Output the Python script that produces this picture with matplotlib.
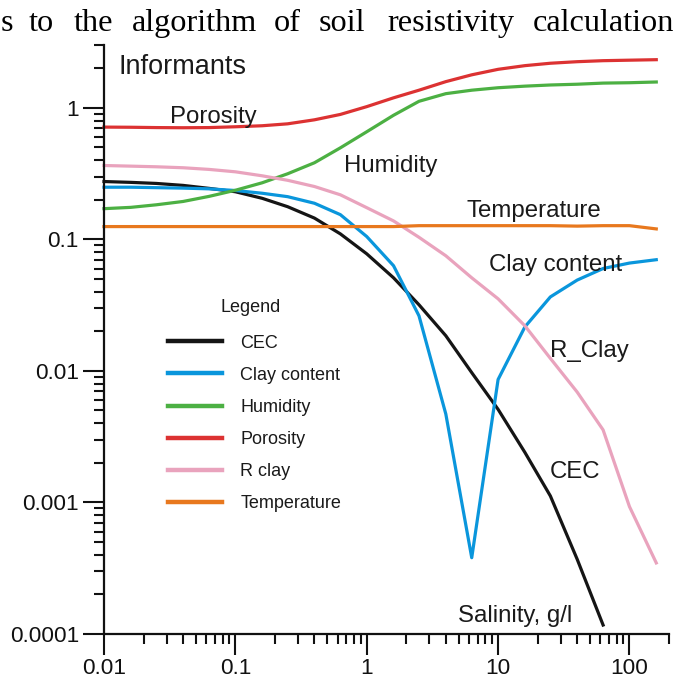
import matplotlib
matplotlib.use("Agg")
from matplotlib import pyplot as plt
from matplotlib.ticker import LogLocator, NullFormatter

# salinity, g/l (step 0.2 in log10)
salinity = [0.01, 0.016, 0.025, 0.04, 0.063, 0.1, 0.16, 0.25, 0.4, 0.63,
            1, 1.6, 2.5, 4, 6.3, 10, 16, 25, 40, 63, 100, 160]

cec = [0.275, 0.271, 0.266, 0.257, 0.244, 0.230, 0.205, 0.177, 0.145, 0.110,
       0.0776, 0.051, 0.0318, 0.0185, 0.0097, 0.0051, 0.0024, 0.00112,
       0.00037, 0.000117]
clay_content = [0.249, 0.249, 0.247, 0.245, 0.242, 0.235, 0.224, 0.211, 0.188,
                0.154, 0.105, 0.063, 0.0262, 0.0047, 0.00038, 0.0086, 0.0216,
                0.0365, 0.049, 0.060, 0.066, 0.070]
humidity = [0.171, 0.175, 0.183, 0.194, 0.212, 0.236, 0.269, 0.315, 0.382, 0.496,
            0.657, 0.877, 1.12, 1.28, 1.36, 1.42, 1.46, 1.49, 1.51, 1.54, 1.55, 1.57]
porosity = [0.713, 0.711, 0.707, 0.705, 0.707, 0.717, 0.73, 0.755, 0.81, 0.89,
            1.02, 1.19, 1.36, 1.58, 1.78, 1.96, 2.09, 2.18, 2.24, 2.28, 2.30, 2.32]
r_clay = [0.364, 0.360, 0.356, 0.350, 0.340, 0.326, 0.304, 0.281, 0.252, 0.218,
          0.174, 0.138, 0.1036, 0.075, 0.051, 0.0353, 0.022, 0.01245, 0.0069,
          0.00356, 0.00093, 0.000347]
temperature = [0.125, 0.125, 0.125, 0.125, 0.125, 0.125, 0.125, 0.125, 0.125,
               0.125, 0.125, 0.125, 0.127, 0.127, 0.127, 0.127, 0.127, 0.127,
               0.126, 0.127, 0.127, 0.120]

series = [
    ("CEC", cec, "#151515"),
    ("Clay content", clay_content, "#0a96dc"),
    ("Humidity", humidity, "#4cb043"),
    ("Porosity", porosity, "#dc3232"),
    ("R clay", r_clay, "#e9a3bd"),
    ("Temperature", temperature, "#e8781e"),
]

# label text, x, y (data coords, left / baseline), font size
curve_labels = [
    ("Informants", 0.013, 1.8, 19.5),
    ("Porosity", 0.032, 0.765, 17.3),
    ("Humidity", 0.67, 0.326, 17.3),
    ("Temperature", 5.7, 0.149, 17.3),
    ("Clay content", 8.6, 0.057, 17.3),
    ("R_Clay", 24.7, 0.0128, 17.3),
    ("CEC", 24.8, 0.00153, 17.3),
    ("Salinity, g/l", 4.95, 0.000124, 17.3),
]

xticks = [0.01, 0.1, 1, 10, 100]
xtick_labels = ["0.01", "0.1", "1", "10", "100"]
yticks = [0.0001, 0.001, 0.01, 0.1, 1]
ytick_labels = ["0.0001", "0.001", "0.01", "0.1", "1"]

title_words = [("s", 0.5), ("to", 29), ("the", 74), ("algorithm", 132),
               ("of", 274), ("soil", 319), ("resistivity", 387),
               ("calculation", 533)]

plt.rcParams['font.family'] = ['Liberation Sans', 'DejaVu Sans']

W, H = 681, 679
fig = plt.figure(figsize=(W / 100, H / 100), dpi=100)
ax = fig.add_axes([104 / W, 45 / H, 565 / W, 589 / H])

for name, vals, color in series:
    ax.plot(salinity[:len(vals)], vals, color=color, lw=2.3, label=name,
            solid_joinstyle='round', clip_on=False)

ax.set_xscale('log')
ax.set_yscale('log')
ax.set_xlim(0.01, 200)
ax.set_ylim(0.0001, 3)

for s in ['top', 'right']:
    ax.spines[s].set_visible(False)
for s in ['left', 'bottom']:
    ax.spines[s].set_linewidth(1.6)
    ax.spines[s].set_color('#111111')

ax.set_xticks(xticks)
ax.set_xticklabels(xtick_labels)
ax.set_yticks(yticks)
ax.set_yticklabels(ytick_labels)
ax.xaxis.set_minor_locator(LogLocator(base=10, subs=range(2, 10), numticks=20))
ax.yaxis.set_minor_locator(LogLocator(base=10, subs=range(2, 10), numticks=20))
ax.xaxis.set_minor_formatter(NullFormatter())
ax.yaxis.set_minor_formatter(NullFormatter())
ax.tick_params(which='major', direction='out', length=15, width=1.5,
               labelsize=16.2, colors='#111111', pad=2)
ax.tick_params(which='minor', direction='out', length=7, width=1.5,
               colors='#111111')
ax.tick_params(axis='y', which='major', pad=3)

for text, x, y, fs in curve_labels:
    ax.text(x, y, text, fontsize=fs, color='#1a1a1a', ha='left', va='baseline')

leg = ax.legend(loc='upper left', bbox_to_anchor=(168 / W, 1 - 334.5 / H),
                bbox_transform=fig.transFigure, frameon=False,
                fontsize=13, handlelength=3.0,
                handletextpad=1.0, labelspacing=0.84, borderpad=0,
                borderaxespad=0)
for line in leg.get_lines():
    line.set_linewidth(3.2)
for t in leg.get_texts():
    t.set_color('#1a1a1a')
fig.text(251 / W, 1 - 311.7 / H, "Legend", fontsize=13, color='#1a1a1a',
         ha='center', va='baseline')

for word, x in title_words:
    fig.text(x / W, 1 - 30.7 / H, word, fontsize=23.2, ha='left',
             va='baseline', family='Liberation Serif', color='black')

fig.savefig("out.png", dpi=100)
